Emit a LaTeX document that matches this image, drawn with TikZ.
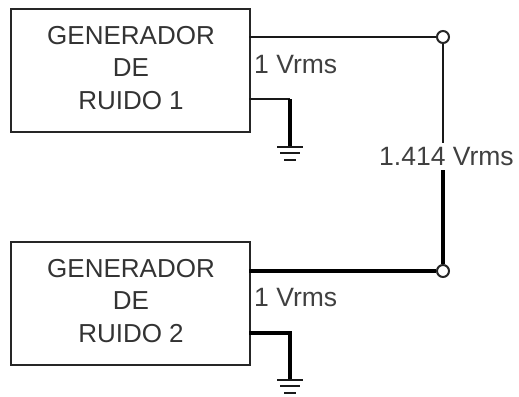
\documentclass[tikz,border=0pt]{standalone}
\usepackage{fontspec}
\setmainfont{Liberation Sans}
\begin{document}
\begin{tikzpicture}[x=1pt,y=-1pt,
  box/.style={draw=black!85,line width=2pt,minimum width=239pt,minimum height=123pt,inner sep=0pt,anchor=north west},
  boxtext/.style={inner sep=0pt,align=center,font=\fontsize{26}{32.5}\selectfont,text=black!80},
  lab/.style={font=\fontsize{26.5}{28}\selectfont,inner sep=0pt,text=black!75},
  thin wire/.style={line width=2pt,black!90},
  thick wire/.style={line width=4.5pt,black},
  term/.style={circle,draw=black!85,line width=2pt,fill=white,minimum size=12pt,inner sep=0pt}]
\useasboundingbox (0,0) rectangle (519,396);
\node[box] (g1) at (10,8) {};
\node[box] (g2) at (10,241) {};
\node[boxtext] (g1t) at (131,68) {GENERADOR\\DE\\RUIDO 1};
\node[boxtext] (g2t) at (131,301) {GENERADOR\\DE\\RUIDO 2};
\node[term] (t1) at (443,37) {};
\node[term] (t2) at (443,271) {};
\coordinate (g1o) at (249,37);
\coordinate (g2o) at (249,271);
\coordinate (g1r) at (249,99);
\coordinate (g2r) at (249,333);
\coordinate (c1) at (290,99);
\coordinate (c2) at (290,333);
\coordinate (e1) at (290,147);
\coordinate (e2) at (290,380);
\coordinate (m1) at (441.5,143);
\coordinate (m2) at (442,170);
\draw[thin wire] (g1o) -- (t1);
\draw[thick wire] (g2o) -- (t2);
\draw[thin wire] (t1) -- (t1 |- m1);
\draw[thick wire] (t2) -- (t2 |- m2);
\draw[thin wire] (g1r) -- (c1);
\draw[thick wire] (c1) -- (e1);
\draw[line width=3.5pt,black] (g2r) -- (c2) -- (e2);
\foreach \n in {1,2}{
  \draw[line width=2pt,black!90] ([xshift=-13pt]e\n) -- ([xshift=13pt]e\n);
  \draw[line width=2pt,black!90] ([xshift=-10pt,yshift=-6pt]e\n) -- ([xshift=10pt,yshift=-6pt]e\n);
  \draw[line width=2.5pt,black!90] ([xshift=-6pt,yshift=-13pt]e\n) -- ([xshift=6pt,yshift=-13pt]e\n);
}
\node[lab,anchor=west] (l1) at (254,65) {1 Vrms};
\node[lab,anchor=west] (l2) at (254,298) {1 Vrms};
\node[lab,anchor=west] (l3) at (379,157) {1.414 Vrms};
\end{tikzpicture}
\end{document}
